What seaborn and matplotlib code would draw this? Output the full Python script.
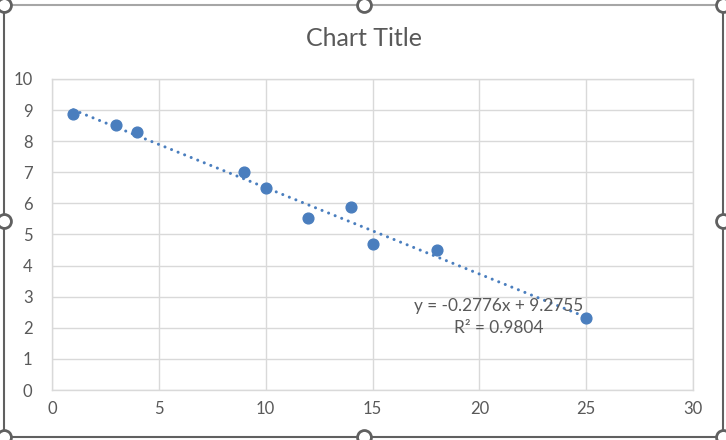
import numpy as np
import pandas as pd
import seaborn as sns
import matplotlib.pyplot as plt
from matplotlib.lines import Line2D

sns.set_theme(style="whitegrid")
plt.rcParams['font.family'] = ['Lato', 'DejaVu Sans']

# data
x_vals = [1, 3, 4, 9, 10, 12, 14, 15, 18, 25]
y_vals = [8.86, 8.51, 8.29, 7.00, 6.49, 5.52, 5.87, 4.68, 4.49, 2.31]
equation = "y = -0.2776x + 9.2755"
r_squared = "R² = 0.9804"

df = pd.DataFrame({'x': x_vals, 'y': y_vals})

W, H = 726, 440
fig = plt.figure(figsize=(W / 100, H / 100), dpi=100)
ax = fig.add_axes([52 / W, 1 - 390 / H, (693 - 52) / W, (390 - 79) / H])

blue = '#4A7EBE'
grey_txt = '#595959'

sns.regplot(data=df, x='x', y='y', ax=ax, ci=None,
            scatter_kws={'s': 60, 'color': blue, 'edgecolor': blue,
                         'alpha': 1, 'zorder': 3},
            line_kws={'color': blue, 'lw': 2.2, 'dashes': (0.01, 2.3),
                      'dash_capstyle': 'round'})

ax.set_xlim(0, 30)
ax.set_ylim(0, 10)
ax.set_xticks(range(0, 31, 5))
ax.set_yticks(range(0, 11))
ax.set_xlabel('')
ax.set_ylabel('')
ax.grid(True, color='#D9D9D9', lw=1)
for s in ax.spines.values():
    s.set_color('#D9D9D9')
    s.set_linewidth(1)
ax.tick_params(axis='both', length=0, labelsize=12, colors=grey_txt)
ax.tick_params(axis='x', pad=8)
ax.tick_params(axis='y', pad=14)

ax.text(20.9, 2.70, equation, ha='center', va='center', fontsize=12.4, color=grey_txt)
ax.text(20.9, 1.99, r_squared, ha='center', va='center', fontsize=12.4, color=grey_txt)

fig.text(364 / W, 1 - 38 / H, 'Chart Title', ha='center', va='center',
         fontsize=18, color=grey_txt)

# chart frame with selection handles
def px(x, y):
    return x / W, 1 - y / H

fig.add_artist(Line2D(*zip(px(4, 5), px(723, 5)), color='#A6A6A6', lw=1.5))
fig.add_artist(Line2D(*zip(px(4, 5), px(4, 437), px(723, 437), px(723, 5)),
                      color='#606060', lw=1.5))
for hx, hy in [(4, 5), (364, 5), (723, 5), (4, 221), (723, 221),
               (4, 437), (364, 437), (723, 437)]:
    fig.add_artist(Line2D([hx / W], [1 - hy / H], marker='o', markersize=10,
                          mfc='white', mec='#606060', mew=2))

fig.savefig('out.png', dpi=100)
